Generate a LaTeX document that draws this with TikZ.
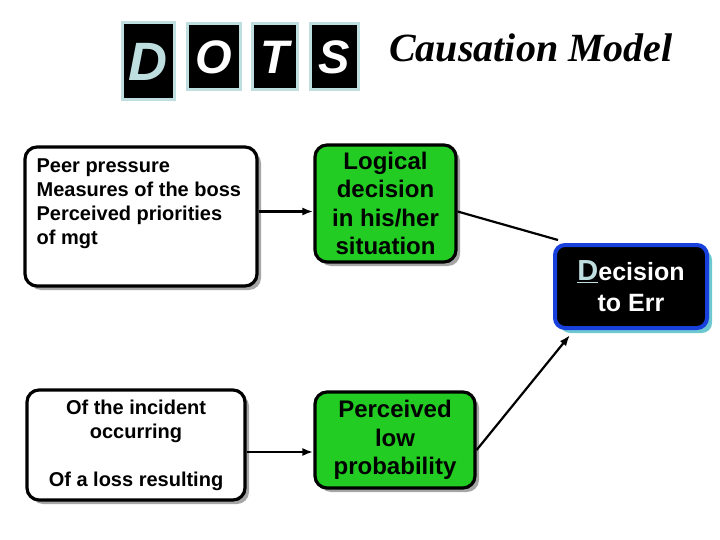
\documentclass[tikz,border=0pt]{standalone}
\usepackage{fontspec}
\setmainfont{Liberation Sans}
\newfontfamily\serif{Liberation Serif}
\usetikzlibrary{shadows, arrows.meta}
\definecolor{grn}{RGB}{34,204,34}
\definecolor{paleblue}{RGB}{190,222,224}
\definecolor{errblue}{RGB}{24,64,220}
\definecolor{errshade}{RGB}{110,200,210}
\tikzstyle{letter}=[draw=paleblue, line width=3pt, fill=black, text=white, inner sep=0, font=\fontsize{47}{47}\selectfont\bfseries\itshape]
\tikzstyle{cause}=[draw, line width=3.2pt, fill=white, rounded corners=12pt, drop shadow={shadow xshift=4pt, shadow yshift=-4pt, fill=black!35, opacity=1}]
\tikzstyle{logic}=[cause, fill=grn, align=center, inner sep=0, font=\fontsize{24}{28.5}\selectfont\bfseries]
\tikzstyle{err}=[draw=errblue, line width=4pt, fill=black, text=white, rounded corners=10pt, align=center, inner sep=0, font=\fontsize{25}{31}\selectfont\bfseries, drop shadow={shadow xshift=5pt, shadow yshift=-5pt, fill=errshade, opacity=1}]
\tikzstyle{arr}=[line width=2.2pt, -{Latex[length=11pt,width=8pt]}]

\begin{document}
\begin{tikzpicture}[x=1pt, y=-1pt]
\useasboundingbox (0,0) rectangle (720,540);
% title letters
\node at (148,61.5)[letter, minimum width=52pt, minimum height=77pt, text=paleblue, font=\fontsize{54}{54}\selectfont\bfseries\itshape](d){D};
\node at (213.5,57)[letter, minimum width=53pt, minimum height=66pt](o){O};
\node at (274.5,57)[letter, minimum width=45pt, minimum height=66pt](t){T};
\node at (334,57)[letter, minimum width=48pt, minimum height=66pt](s){S};
\node at (531,48)[font=\serif\fontsize{40}{40}\selectfont\bfseries\itshape](title){Causation Model};
% causes
\node at (141,216.5)[cause, minimum width=232pt, minimum height=139pt](box1){};
\node at ([xshift=13pt,yshift=-13pt]box1.north west)[anchor=north west, align=left, inner sep=0, font=\fontsize{20}{24}\selectfont\bfseries](txt1){Peer pressure\\Measures of the boss\\Perceived priorities\\of mgt};
\node at (136,445)[cause, minimum width=218pt, minimum height=110pt, align=center, font=\fontsize{20}{24}\selectfont\bfseries](box2){Of the incident\\occurring\\[24pt]Of a loss resulting};
% decisions
\node at (385.5,203.5)[logic, minimum width=141pt, minimum height=117pt](grn1){Logical\\decision\\in his/her\\situation};
\node at (395,440)[logic, minimum width=160pt, minimum height=96pt](grn2){Perceived\\low\\probability};
\node at (631,286.5)[err, minimum width=152pt, minimum height=83pt](err){{\color{paleblue}\fontsize{29}{29}\selectfont\underline{D}}ecision\\to Err};
% links
\draw[arr] ([yshift=5pt]box1.east) -- ([yshift=5pt]box1.east -| grn1.west);
\draw[line width=2.2pt] ([yshift=-8pt]grn1.east) -- ([xshift=5pt,yshift=3pt]err.north west);
\draw[arr] ([yshift=-7pt]box2.east) -- ([yshift=-7pt]box2.east -| grn2.west);
\draw[arr] ([yshift=-10pt]grn2.east) -- ([xshift=17pt,yshift=-5pt]err.south west);
\end{tikzpicture}
\end{document}
